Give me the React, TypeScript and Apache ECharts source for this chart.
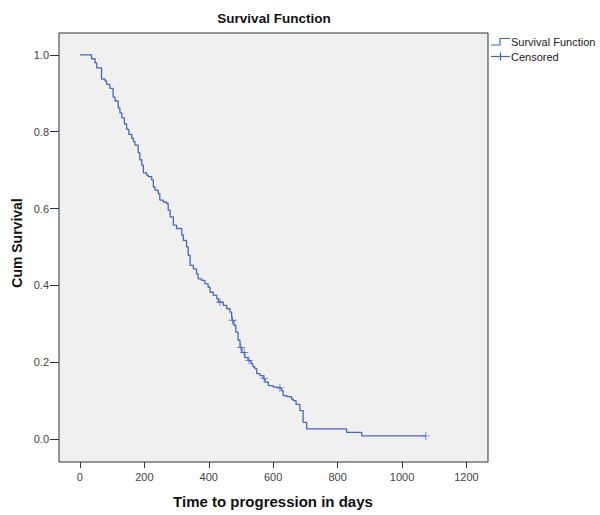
import React, { useEffect, useRef } from "react";
import * as echarts from "echarts";

const survivalDays = [0, 36, 47, 52, 67, 78, 83, 93, 103, 109, 119, 124, 130, 138, 145, 152, 161, 166, 171, 181, 186, 192, 197, 207, 212, 223, 228, 233, 243, 248, 259, 269, 274, 280, 290, 300, 316, 321, 331, 336, 342, 352, 362, 367, 378, 388, 398, 404, 414, 425, 430, 445, 456, 466, 471, 473, 478, 484, 491, 497, 503, 512, 522, 531, 537, 543, 549, 559, 569, 575, 585, 600, 616, 626, 631, 642, 657, 662, 671, 683, 693, 704, 828, 875, 1074];
const survivalValues = [1.0, 0.99, 0.979, 0.966, 0.937, 0.932, 0.923, 0.913, 0.89, 0.88, 0.862, 0.849, 0.836, 0.82, 0.806, 0.793, 0.783, 0.774, 0.765, 0.745, 0.727, 0.713, 0.693, 0.687, 0.683, 0.674, 0.656, 0.648, 0.639, 0.622, 0.617, 0.613, 0.596, 0.578, 0.557, 0.548, 0.531, 0.517, 0.5, 0.478, 0.452, 0.443, 0.43, 0.417, 0.413, 0.404, 0.395, 0.382, 0.374, 0.365, 0.356, 0.348, 0.339, 0.33, 0.317, 0.309, 0.296, 0.278, 0.257, 0.238, 0.225, 0.212, 0.204, 0.196, 0.188, 0.183, 0.17, 0.165, 0.157, 0.148, 0.139, 0.135, 0.133, 0.126, 0.113, 0.11, 0.104, 0.1, 0.09, 0.074, 0.043, 0.026, 0.017, 0.008, 0.008];

const censoredDays = [435, 474, 500, 510, 525, 572, 621, 1074];
const censoredValues = [0.356, 0.309, 0.238, 0.225, 0.204, 0.157, 0.133, 0.008];

const xTicks = [0, 200, 400, 600, 800, 1000, 1200];
const yTicks = [0, 0.2, 0.4, 0.6, 0.8, 1.0];

const BLUE = "#4467C4";
const FONT = "Liberation Sans, Arial, sans-serif";

export default function App() {
  const ref = useRef<HTMLDivElement>(null);
  useEffect(() => {
    if (!ref.current) return;
    const chart = echarts.init(ref.current, undefined, { renderer: "svg" });
    const lineData = survivalDays.map((d, i) => [d, survivalValues[i]]);
    const censData = censoredDays.map((d, i) => [d, censoredValues[i]]);
    chart.setOption({
      animation: false,
      backgroundColor: "#ffffff",
      textStyle: { fontFamily: FONT },
      grid: {
        left: 59,
        right: 112,
        top: 33,
        bottom: 53,
        show: true,
        backgroundColor: "#F0F0F0",
        borderColor: "#333333",
        borderWidth: 1,
      },
      xAxis: {
        type: "value",
        min: -65,
        max: 1267,
        axisLine: { show: false, onZero: false },
        splitLine: { show: false },
        axisTick: { show: true, length: 6, customValues: xTicks, lineStyle: { color: "#333" } },
        axisLabel: {
          customValues: xTicks,
          margin: 9,
          fontSize: 11,
          color: "#444",
          fontFamily: FONT,
          formatter: (v: number) => String(Math.round(v)),
        },
      },
      yAxis: {
        type: "value",
        min: -0.06,
        max: 1.057,
        axisLine: { show: false, onZero: false },
        splitLine: { show: false },
        axisTick: { show: true, length: 9, customValues: yTicks, lineStyle: { color: "#333" } },
        axisLabel: {
          customValues: yTicks,
          margin: 10,
          fontSize: 11,
          color: "#444",
          fontFamily: FONT,
          formatter: (v: number) => v.toFixed(1),
        },
      },
      series: [
        {
          type: "line",
          step: "end",
          data: lineData,
          showSymbol: false,
          symbol: "none",
          lineStyle: { color: BLUE, width: 1.3 },
        },
        {
          type: "scatter",
          data: censData,
          symbol: "path://M4,0h1v4h4v1h-4v4h-1v-4h-4v-1h4z",
          symbolSize: 8,
          itemStyle: { color: BLUE },
        },
      ],
      graphic: [
        {
          type: "text",
          x: 274,
          y: 18,
          style: {
            text: "Survival Function",
            font: "bold 13.5px " + FONT,
            fill: "#111",
            textAlign: "center",
            textVerticalAlign: "middle",
          },
        },
        {
          type: "text",
          x: 273,
          y: 501,
          style: {
            text: "Time to progression in days",
            font: "bold 15px " + FONT,
            fill: "#111",
            textAlign: "center",
            textVerticalAlign: "middle",
          },
        },
        {
          type: "text",
          x: 17,
          y: 243,
          rotation: Math.PI / 2,
          style: {
            text: "Cum Survival",
            font: "bold 14px " + FONT,
            fill: "#111",
            textAlign: "center",
            textVerticalAlign: "middle",
          },
        },
        {
          type: "polyline",
          shape: { points: [[491, 45], [500, 45], [500, 38.5], [510, 38.5]] },
          style: { stroke: BLUE, lineWidth: 1.2, fill: "none" },
        },
        {
          type: "text",
          x: 511,
          y: 41.5,
          style: {
            text: "Survival Function",
            font: "11px " + FONT,
            fill: "#222",
            textVerticalAlign: "middle",
          },
        },
        {
          type: "line",
          shape: { x1: 491, y1: 56.5, x2: 510, y2: 56.5 },
          style: { stroke: BLUE, lineWidth: 1.2 },
        },
        {
          type: "line",
          shape: { x1: 500.5, y1: 52.5, x2: 500.5, y2: 60.5 },
          style: { stroke: BLUE, lineWidth: 1.2 },
        },
        {
          type: "text",
          x: 511,
          y: 56.5,
          style: {
            text: "Censored",
            font: "11px " + FONT,
            fill: "#222",
            textVerticalAlign: "middle",
          },
        },
      ],
    });
    return () => chart.dispose();
  }, []);
  return (
    <div
      ref={ref}
      style={{ position: "absolute", left: 0, top: 0, width: 600, height: 515 }}
    />
  );
}
